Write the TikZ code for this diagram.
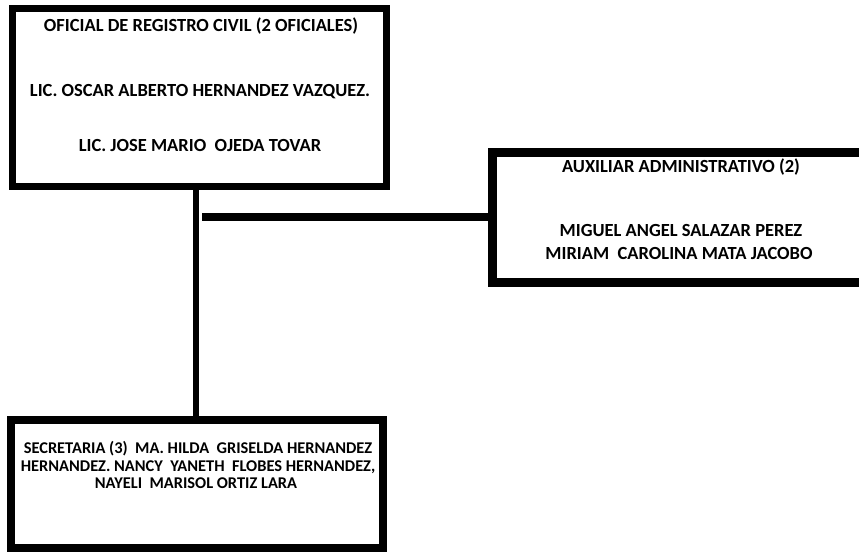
\documentclass[tikz,border=0pt]{standalone}
\usepackage{fontspec}
\setmainfont{Carlito}
\begin{document}
\begin{tikzpicture}[x=1pt,y=-1pt, line join=miter,
	caja/.style={draw, rectangle, inner sep=0pt, line width=#1},
	txt/.style={font=\fontsize{18.5}{20}\selectfont\bfseries, inner sep=0pt, anchor=base},
	txtb/.style={txt, font=\fontsize{16.4}{18}\selectfont\bfseries},
	linea/.style={line width=6.5pt}]
	\useasboundingbox (0,0) rectangle (859,553);
	% Cajas
	\node[caja=7pt, minimum width=374pt, minimum height=178pt] (oficial) at (199.5,97.5) {};
	\node[caja=9pt, minimum width=375pt, minimum height=130pt] (auxiliar) at (680,217.5) {};
	\node[caja=8pt, minimum width=372pt, minimum height=128pt] (secretaria) at (197,484) {};
	% Textos
	\node[txt] (of1) at (201,32) {OFICIAL DE REGISTRO CIVIL (2 OFICIALES)};
	\node[txt] (of2) at (200,97) {LIC. OSCAR ALBERTO HERNANDEZ VAZQUEZ.};
	\node[txt] (of3) at (200,152) {LIC. JOSE MARIO\ \ OJEDA TOVAR};
	\node[txt] (au1) at (681,173) {AUXILIAR ADMINISTRATIVO (2)};
	\node[txt] (au2) at (681,237) {MIGUEL ANGEL SALAZAR PEREZ};
	\node[txt] (au3) at (679,260) {MIRIAM\ \ CAROLINA MATA JACOBO};
	\node[txtb] (se1) at (198,453) {SECRETARIA (3)\ \ MA. HILDA\ \ GRISELDA HERNANDEZ};
	\node[txtb] (se2) at (198,471) {HERNANDEZ. NANCY\ \ YANETH\ \ FLOBES HERNANDEZ,};
	\node[txtb] (se3) at (196,488) {NAYELI\ \ MARISOL ORTIZ LARA};
	% Conectores
	\coordinate (tronco) at (196,300);
	\coordinate (toma) at (202,217.5);
	\draw[linea] (oficial.south -| tronco) -- (secretaria.north -| tronco);
	\draw[linea, line width=8pt] (toma) -- (auxiliar.west);
\end{tikzpicture}
\end{document}
